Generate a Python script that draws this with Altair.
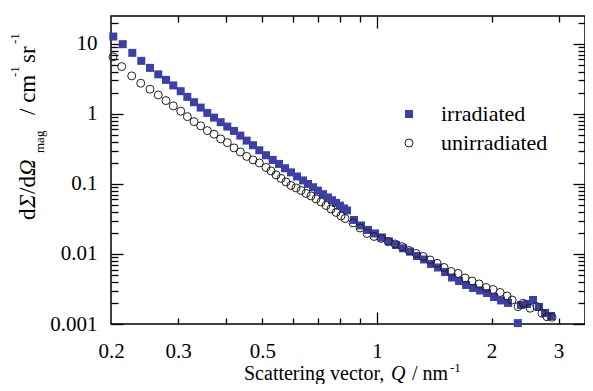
import altair as alt
import pandas as pd

# ---------------- data ----------------
SERIES = ["irradiated", "unirradiated"]

q_irr = [0.2028, 0.2147, 0.2275, 0.2402, 0.2532, 0.2662, 0.2789, 0.2915, 0.3049, 0.3174,
         0.3305, 0.3441, 0.3582, 0.3730, 0.3884, 0.4043, 0.4210, 0.4373, 0.4546, 0.4723,
         0.4906, 0.5109, 0.5320, 0.5527, 0.5731,
         0.5943, 0.6165, 0.6392, 0.6588, 0.6791, 0.6999, 0.7214, 0.7436, 0.7618, 0.7804,
         0.7995, 0.8191, 0.8341,
         0.8702, 0.9080, 0.9473, 0.9884, 1.0312, 1.0759, 1.1221, 1.1707, 1.2214, 1.2744,
         1.3296, 1.3869, 1.4469, 1.5095, 1.5749, 1.6431, 1.7143, 1.7885, 1.8660, 1.9463,
         2.0306, 2.1184, 2.2098, 2.344, 2.3906, 2.4790, 2.5704, 2.6654, 2.7640, 2.8662]
i_irr = [12.72, 9.90, 7.44, 5.72, 4.54, 3.67, 3.06, 2.553, 2.110, 1.750,
         1.469, 1.230, 1.033, 0.885, 0.761, 0.659, 0.5715, 0.490, 0.4155, 0.357,
         0.303, 0.257, 0.2203, 0.1931, 0.1676,
         0.1464, 0.1279, 0.1122, 0.1000, 0.0897, 0.0802, 0.0715, 0.0641, 0.0585, 0.0535,
         0.0490, 0.0447, 0.0418,
         0.03059, 0.02553, 0.02203, 0.01963, 0.01721, 0.01509, 0.01345, 0.01206, 0.01079, 0.00936,
         0.00834, 0.00720, 0.00641, 0.00553, 0.00461, 0.00411, 0.00361, 0.00327, 0.00301, 0.00277,
         0.00243, 0.00217, 0.00200, 0.00103, 0.00187, 0.00193, 0.00220, 0.00175, 0.00144, 0.00130]

q_unirr = [0.2024, 0.2134, 0.2267, 0.2394, 0.2532, 0.2662, 0.2789, 0.2915, 0.3049, 0.3174,
           0.3305, 0.3441, 0.3582, 0.3730, 0.3884, 0.4043, 0.4210, 0.4373, 0.4546, 0.4723,
           0.4906, 0.5109,
           0.5266, 0.5428, 0.5594, 0.5766, 0.5943, 0.6128, 0.6315, 0.6509, 0.6709, 0.6915,
           0.7127, 0.7346, 0.7572, 0.7804, 0.8044, 0.8241,
           0.8650, 0.9025, 0.9416, 0.9824, 1.0250, 1.0694, 1.1153, 1.1636, 1.2141, 1.2667,
           1.3216, 1.3785, 1.4382, 1.5004, 1.5654, 1.6331, 1.7039, 1.7777, 1.8547, 1.9346,
           2.0182, 2.1056, 2.1966, 2.2644, 2.3480, 2.4202, 2.5246, 2.6332, 2.7142, 2.7976, 2.8842]
i_unirr = [6.52, 4.74, 3.49, 2.746, 2.254, 1.868, 1.549, 1.301, 1.093, 0.915,
           0.776, 0.674, 0.577, 0.513, 0.4394, 0.389, 0.3268, 0.2865, 0.2471, 0.2203,
           0.1995, 0.1721,
           0.1534, 0.1345, 0.1199, 0.1068, 0.0952, 0.0877, 0.0807, 0.0731, 0.0674, 0.0611,
           0.0553, 0.0493, 0.0439, 0.0392, 0.0349, 0.0321,
           0.02773, 0.02351, 0.01963, 0.01778, 0.01665, 0.01509, 0.01389, 0.01272, 0.01122, 0.01017,
           0.00921, 0.00821, 0.00736, 0.00641, 0.00562, 0.00527, 0.00454, 0.00411, 0.00373, 0.00332,
           0.00311, 0.00282, 0.00251, 0.00220, 0.00177, 0.00198, 0.00168, 0.00177, 0.00142, 0.00127, 0.00125]

x_label_values = [0.2, 0.3, 0.5, 1, 2, 3]
y_label_values = [0.001, 0.01, 0.1, 1, 10]
x_major_ticks = [1]
x_minor_ticks = [0.3, 0.4, 0.5, 0.6, 0.7, 0.8, 0.9, 2, 3]
y_major_ticks = [0.001, 0.01, 0.1, 1, 10]
y_minor_ticks = [0.002, 0.003, 0.004, 0.005, 0.006, 0.007, 0.008, 0.009,
                 0.02, 0.03, 0.04, 0.05, 0.06, 0.07, 0.08, 0.09,
                 0.2, 0.3, 0.4, 0.5, 0.6, 0.7, 0.8, 0.9,
                 2, 3, 4, 5, 6, 7, 8, 9, 20]

df = pd.DataFrame({
    "q": q_irr + q_unirr,
    "i": i_irr + i_unirr,
    "series": [SERIES[0]] * len(q_irr) + [SERIES[1]] * len(q_unirr),
})

# ---------------- styling ----------------
BLUE = "#3b3fa6"
FONT = "Liberation Serif, Times New Roman, DejaVu Serif, serif"
W, H = 474, 308
xs = alt.Scale(type="log", domain=[0.2, 3.52], nice=False)
ys = alt.Scale(type="log", domain=[0.001, 25], nice=False)

lab_x = alt.Axis(orient="bottom", values=x_label_values, format="~g", ticks=False, tickSize=0,
                 domain=False, grid=False, title=None, labelFont=FONT, labelFontSize=21,
                 labelColor="black", labelPadding=16, labelFlush=False, labelOverlap=False)
lab_y = alt.Axis(orient="left", values=y_label_values, format="~g", ticks=False, tickSize=0,
                 domain=False, grid=False, title=None, labelFont=FONT, labelFontSize=21,
                 labelColor="black", labelPadding=14, labelOverlap=False)


def tick_axis(orient, values, length):
    return alt.Axis(orient=orient, values=values, offset=-length, tickSize=length,
                    tickWidth=1.3, tickColor="black", labels=False, domain=False,
                    grid=False, title=None)


leg = alt.Legend(title=None, orient="none", legendX=287, legendY=87, labelFont=FONT,
                 labelFontSize=22, labelColor="black", symbolSize=64, rowPadding=7,
                 labelOffset=21, padding=0, symbolStrokeWidth=1)

base = alt.Chart(df)

points = base.mark_point(size=64, strokeWidth=1, opacity=1, filled=True).encode(
    x=alt.X("q:Q", scale=xs, axis=lab_x),
    y=alt.Y("i:Q", scale=ys, axis=lab_y),
    shape=alt.Shape("series:N", scale=alt.Scale(domain=SERIES, range=["square", "circle"]), legend=leg),
    fill=alt.Fill("series:N", scale=alt.Scale(domain=SERIES, range=[BLUE, "transparent"]), legend=leg),
    stroke=alt.Stroke("series:N", scale=alt.Scale(domain=SERIES, range=["transparent", "#222222"]), legend=leg),
)


def tick_layer(xaxis, yaxis):
    return base.mark_point(opacity=0, size=1).encode(
        x=alt.X("q:Q", scale=xs, axis=xaxis),
        y=alt.Y("i:Q", scale=ys, axis=yaxis),
    )


t_layers = [
    tick_layer(tick_axis("bottom", x_major_ticks, 12), tick_axis("left", y_major_ticks, 12)),
    tick_layer(tick_axis("bottom", x_minor_ticks, 6), tick_axis("left", y_minor_ticks, 7)),
    tick_layer(tick_axis("top", x_major_ticks, 12), tick_axis("right", y_major_ticks, 12)),
    tick_layer(tick_axis("top", x_minor_ticks, 6), tick_axis("right", y_minor_ticks, 7)),
]


def text_piece(s, x, y, size, angle=0, italic=False):
    kw = dict(align="left", baseline="alphabetic", font=FONT, fontSize=size,
              fontStyle="italic" if italic else "normal", color="black")
    if angle:
        kw["angle"] = angle
    return alt.Chart(pd.DataFrame({"t": [s]})).mark_text(**kw).encode(
        x=alt.value(x), y=alt.value(y), text="t:N")


texts = [
    # x-axis title: Scattering vector, Q / nm^-1
    text_piece("Scattering vector,", 133, 364, 20),
    text_piece("Q", 280, 364, 20, italic=True),
    text_piece("/ nm", 301, 364, 20),
    text_piece("-1", 339, 356, 13),
    # y-axis title: dΣ/dΩ_mag / cm^-1 sr^-1 (rotated)
    text_piece("d", -76, 204, 23, angle=270),
    text_piece("Σ", -76, 192, 23, angle=270, italic=True),
    text_piece("/d", -76, 178, 23, angle=270),
    text_piece("Ω", -76, 160, 23, angle=270, italic=True),
    text_piece("mag", -67, 137, 13, angle=270),
    text_piece("/ cm", -76, 99, 23, angle=270),
    text_piece("-1", -92, 61, 13, angle=270),
    text_piece("sr", -76, 47, 23, angle=270),
    text_piece("-1", -92, 28, 13, angle=270),
]

chart = alt.layer(points, *t_layers, *texts).resolve_axis(
    x="independent", y="independent"
).properties(
    width=W, height=H,
    autosize=alt.AutoSizeParams(type="none"),
    padding={"left": 103, "top": 8, "right": 0, "bottom": 60},
).configure_view(stroke="black", strokeWidth=1.5)

chart.save("out.html", embed_options={"renderer": "svg", "actions": False})
